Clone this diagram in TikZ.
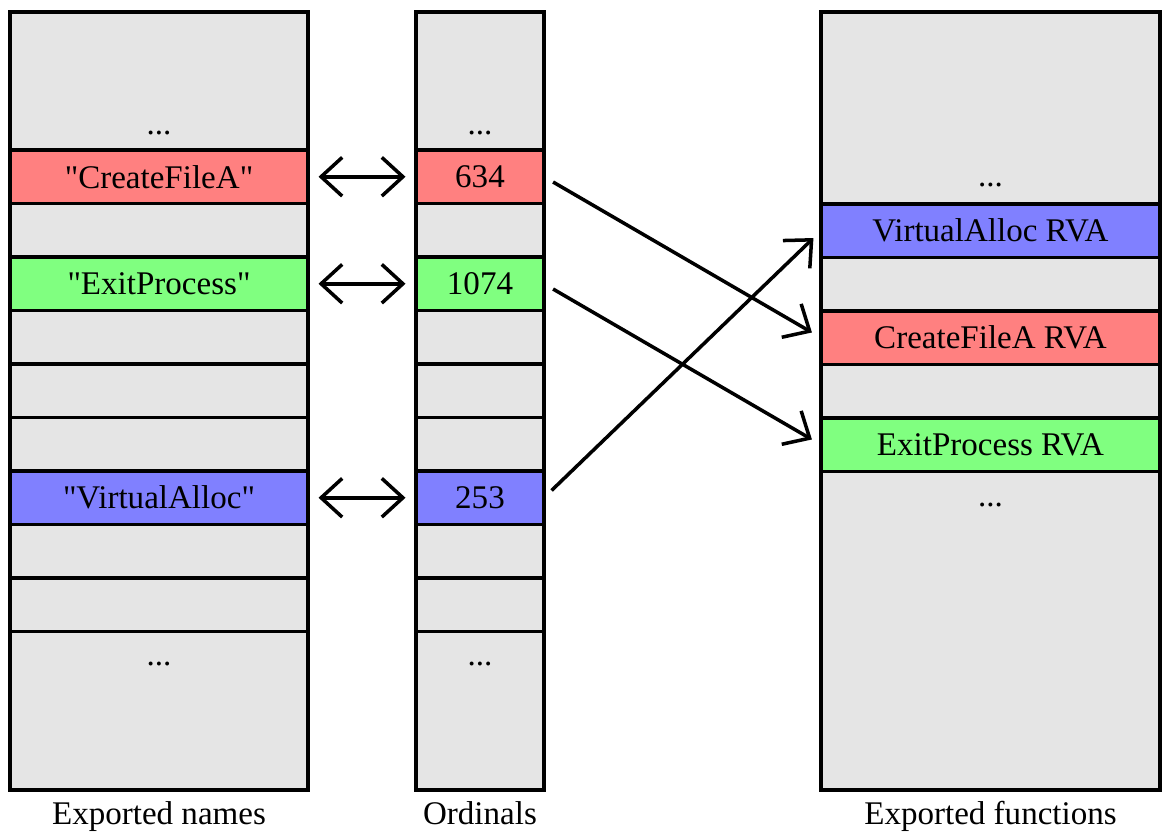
\documentclass[tikz,border=0pt]{standalone}
\usepackage{fontspec}
\setmainfont{Liberation Serif}
\usetikzlibrary{positioning,arrows.meta}
\definecolor{cellgray}{HTML}{E5E5E5}
\definecolor{cellred}{HTML}{FF8080}
\definecolor{cellgreen}{HTML}{80FF80}
\definecolor{cellblue}{HTML}{8080FF}
\newcommand{\qname}[1]{\textquotedbl#1\textquotedbl}

\begin{document}
\begin{tikzpicture}[
    font=\fontsize{18.8}{22}\selectfont,
    >={Straight Barb[length=12pt,width=22pt]},
    cell/.style={draw, line width=2pt, fill=cellgray, inner sep=0pt, outer sep=0pt, minimum height=1.07cm},
    namecell/.style={cell, minimum width=5.96cm},
    ordcell/.style={cell, minimum width=2.56cm},
    funccell/.style={cell, minimum width=6.78cm},
    link/.style={line width=2pt, shorten <=0.21cm, shorten >=0.21cm}
]
    \useasboundingbox (0,0) rectangle (23.24,16.62);

    % Draw cells for the exported names
    \node[namecell, minimum height=2.76cm, anchor=north] (n0) at (3.18,16.38) {};
    \node[namecell, fill=cellred, below=0pt of n0] (n1) {\qname{CreateFileA}};
    \node[namecell, below=0pt of n1] (n2) {};
    \node[namecell, fill=cellgreen, below=0pt of n2] (n3) {\qname{ExitProcess}};
    \node[namecell, below=0pt of n3] (n4) {};
    \node[namecell, below=0pt of n4] (n5) {};
    \node[namecell, below=0pt of n5] (n6) {};
    \node[namecell, fill=cellblue, below=0pt of n6] (n7) {\qname{VirtualAlloc}};
    \node[namecell, below=0pt of n7] (n8) {};
    \node[namecell, below=0pt of n8] (n9) {};
    \node[namecell, minimum height=3.17cm, below=0pt of n9] (n10) {};
    \node[anchor=base] (ntopdots) at ([yshift=0.31cm]n0.south) {...};
    \node[anchor=base] (nbotdots) at ([yshift=-0.68cm]n10.north) {...};
    \node[below=3pt of n10] (nlabel) {Exported names};

    % Draw cells for the ordinals
    \node[ordcell, minimum height=2.76cm, anchor=north] (o0) at (9.6,16.38) {};
    \node[ordcell, fill=cellred, below=0pt of o0] (o1) {634};
    \node[ordcell, below=0pt of o1] (o2) {};
    \node[ordcell, fill=cellgreen, below=0pt of o2] (o3) {1074};
    \node[ordcell, below=0pt of o3] (o4) {};
    \node[ordcell, below=0pt of o4] (o5) {};
    \node[ordcell, below=0pt of o5] (o6) {};
    \node[ordcell, fill=cellblue, below=0pt of o6] (o7) {253};
    \node[ordcell, below=0pt of o7] (o8) {};
    \node[ordcell, below=0pt of o8] (o9) {};
    \node[ordcell, minimum height=3.17cm, below=0pt of o9] (o10) {};
    \node[anchor=base] (otopdots) at ([yshift=0.31cm]o0.south) {...};
    \node[anchor=base] (obotdots) at ([yshift=-0.68cm]o10.north) {...};
    \node[below=3pt of o10] (olabel) {Ordinals};

    % Draw cells for the exported functions
    \node[funccell, minimum height=3.84cm, anchor=north] (f0) at (19.81,16.38) {};
    \node[funccell, fill=cellblue, below=0pt of f0] (f1) {VirtualAlloc RVA};
    \node[funccell, below=0pt of f1] (f2) {};
    \node[funccell, fill=cellred, below=0pt of f2] (f3) {CreateFileA RVA};
    \node[funccell, below=0pt of f3] (f4) {};
    \node[funccell, fill=cellgreen, below=0pt of f4] (f5) {ExitProcess RVA};
    \node[funccell, minimum height=6.37cm, below=0pt of f5] (f6) {};
    \node[anchor=base] (ftopdots) at ([yshift=0.34cm]f0.south) {...};
    \node[anchor=base] (fbotdots) at ([yshift=-0.7cm]f6.north) {...};
    \node[below=3pt of f6] (flabel) {Exported functions};

    % Draw links between names and ordinals
    \draw[link, <->] (n1) -- (o1);
    \draw[link, <->] (n3) -- (o3);
    \draw[link, <->] (n7) -- (o7);

    % Draw links from ordinals to functions
    \draw[link, ->] (o1.east) -- (f3.west);
    \draw[link, ->] (o3.east) -- (f5.west);
    \draw[link, ->] (o7.east) -- (f1.west);
\end{tikzpicture}
\end{document}
